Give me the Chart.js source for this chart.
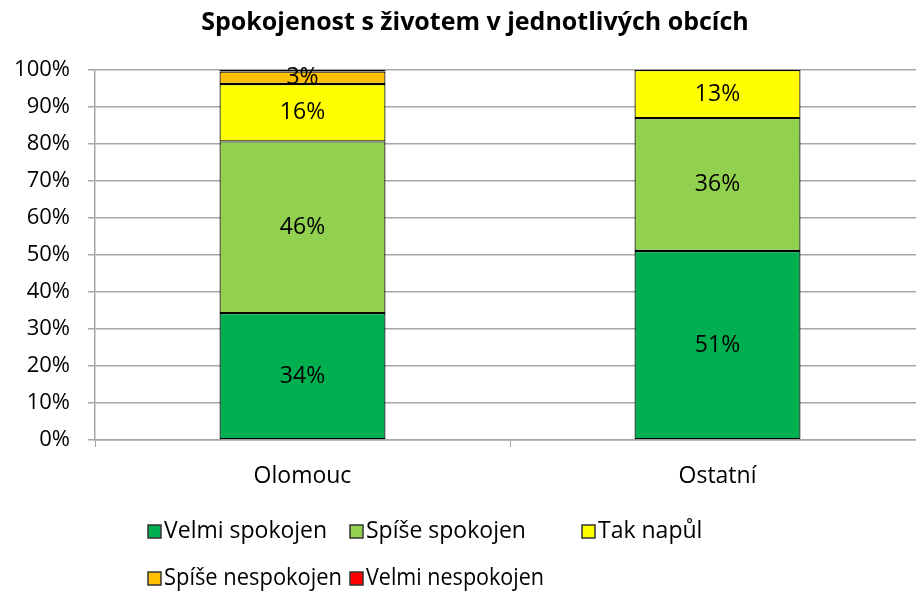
<!DOCTYPE html>
<html>
<head>
<meta charset="utf-8">
<script src="https://cdn.jsdelivr.net/npm/chart.js@4.4.0/dist/chart.umd.min.js"></script>
<style>
  html, body { margin: 0; padding: 0; background: #fff; overflow: hidden; }
  #wrap { width: 916px; height: 592px; overflow: hidden; }
  #box { width: 950px; height: 592px; }
</style>
</head>
<body>
<div id="wrap"><div id="box"><canvas id="c"></canvas></div></div>
<script>
// categories and values (percent)
const categories = ['Olomouc', 'Ostatní'];
const seriesNames = ['Velmi spokojen', 'Spíše spokojen', 'Tak napůl', 'Spíše nespokojen', 'Velmi nespokojen'];
const velmiSpokojen = [34.3, 51.1];
const spiseSpokojen = [46.4, 35.9];
const takNapul = [15.5, 13.0];
const spiseNespokojen = [3.4, 0];
const velmiNespokojen = [0.4, 0];
const yTicks = [0, 10, 20, 30, 40, 50, 60, 70, 80, 90, 100];

const colors = ['#00B050', '#92D050', '#FFFF00', '#FFC000', '#FF0000'];
const values = [velmiSpokojen, spiseSpokojen, takNapul, spiseNespokojen, velmiNespokojen];
const FONT = 'Open Sans';

// Labels inside the bar segments
const segLabels = {
  id: 'segLabels',
  afterDatasetsDraw(chart) {
    const ctx = chart.ctx;
    ctx.save();
    ctx.font = '23px "' + FONT + '"';
    ctx.fillStyle = '#000';
    ctx.textAlign = 'center';
    ctx.textBaseline = 'middle';
    chart.data.datasets.forEach((ds, i) => {
      const meta = chart.getDatasetMeta(i);
      meta.data.forEach((bar, j) => {
        const v = ds.data[j];
        if (v < 1) return;
        const p = bar.getProps(['x', 'y', 'base'], true);
        ctx.fillText(Math.round(v) + '%', p.x, (p.y + p.base) / 2);
      });
    });
    ctx.restore();
  }
};

// Excel-like legend: two rows, aligned columns
const rowsLegend = {
  id: 'rowsLegend',
  afterDraw(chart, args, opts) {
    const ctx = chart.ctx;
    ctx.save();
    ctx.font = '23px "' + FONT + '"';
    ctx.textBaseline = 'middle';
    ctx.textAlign = 'left';
    opts.rows.forEach((row, r) => {
      const y = opts.top + r * opts.rowGap;
      row.forEach((idx, k) => {
        const x = opts.cols[r][k];
        const ds = chart.data.datasets[idx];
        ctx.fillStyle = ds.backgroundColor;
        ctx.fillRect(x, y - 6, 13, 13);
        ctx.strokeStyle = '#333';
        ctx.lineWidth = 1.5;
        ctx.strokeRect(x, y - 6, 13, 13);
        ctx.fillStyle = '#000';
        ctx.fillText(ds.label, x + 16, y, opts.maxText);
      });
    });
    ctx.restore();
  }
};

// centre the title over the whole (wider) canvas, like the original
const titleSpan = {
  id: 'titleSpan',
  afterLayout(chart) {
    const t = chart.titleBlock;
    if (t) { t.right = chart.width; t.width = chart.width; }
  }
};

new Chart(document.getElementById('c'), {
  type: 'bar',
  data: {
    labels: categories,
    datasets: seriesNames.map((name, i) => ({
      label: name,
      data: values[i],
      backgroundColor: colors[i],
      borderColor: '#000',
      borderWidth: 1.2,
      borderSkipped: false,
      barPercentage: 0.4,
      categoryPercentage: 1
    }))
  },
  options: {
    responsive: true,
    maintainAspectRatio: false,
    animation: false,
    layout: { padding: { left: 0, right: 25, top: 0, bottom: 102 } },
    plugins: {
      legend: { display: false },
      tooltip: { enabled: false },
      title: {
        display: true,
        text: 'Spokojenost s životem v jednotlivých obcích',
        color: '#000',
        font: { family: FONT, size: 25, weight: 'bold' },
        padding: { top: 8, bottom: 32 }
      },
      rowsLegend: {
        top: 531,
        rowGap: 47,
        maxText: 178,
        rows: [[0, 1, 2], [3, 4]],
        cols: [[148, 350, 582], [148, 350]]
      }
    },
    scales: {
      x: {
        stacked: true,
        grid: { display: true, drawOnChartArea: false, drawTicks: true, tickLength: 7, color: '#a6a6a6', offset: true },
        border: { color: '#a6a6a6', width: 1.5 },
        ticks: { color: '#000', font: { family: FONT, size: 23 }, padding: 16 },
        afterFit(s) { s.height = 50; }
      },
      y: {
        stacked: true,
        min: 0,
        max: 100,
        afterBuildTicks(s) { s.ticks = yTicks.map(v => ({ value: v })); },
        grid: { color: '#a6a6a6', lineWidth: 1.5, tickLength: 7 },
        border: { color: '#a6a6a6', width: 1.5 },
        ticks: { color: '#000', font: { family: FONT, size: 22 }, padding: 18, callback: v => v + '%' },
        afterFit(s) { s.width = 95; }
      }
    }
  },
  plugins: [segLabels, rowsLegend, titleSpan]
});
</script>
</body>
</html>
